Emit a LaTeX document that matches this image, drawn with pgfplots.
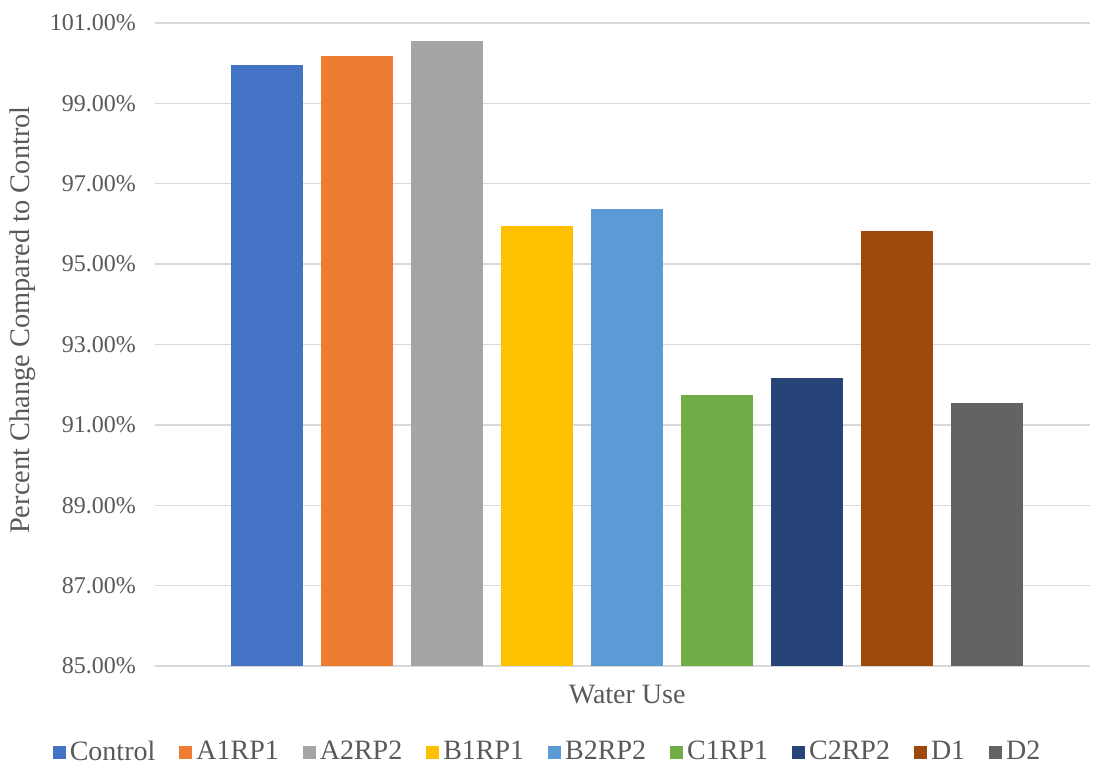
\documentclass[border=0pt]{standalone}
\usepackage{pgfplots}
\pgfplotsset{compat=1.18}
\usepackage{fontspec}
\setmainfont{Liberation Serif}

\definecolor{cControl}{HTML}{4472C4}
\definecolor{cAone}{HTML}{ED7D31}
\definecolor{cAtwo}{HTML}{A5A5A5}
\definecolor{cBone}{HTML}{FFC000}
\definecolor{cBtwo}{HTML}{5B9BD5}
\definecolor{cCone}{HTML}{70AD47}
\definecolor{cCtwo}{HTML}{264478}
\definecolor{cDone}{HTML}{9E480E}
\definecolor{cDtwo}{HTML}{636363}
\definecolor{txt}{HTML}{595959}
\definecolor{gridc}{HTML}{D9D9D9}

\begin{document}
\begin{tikzpicture}
\begin{axis}[
  scale only axis,
  width=467.5pt, height=321.5pt,
  ybar=9pt, bar width=36pt,
  xmin=-1.01, xmax=0.99,
  ymin=85, ymax=101,
  ytick={85,87,...,101},
  xtick=\empty,
  major tick length=0pt,
  /pgf/number format/assume math mode=true,
  yticklabel={\pgfmathprintnumber[fixed,fixed zerofill,precision=2]{\tick}\%},
  yticklabel style={text=txt, font=\fontsize{12}{14}\selectfont, xshift=-6pt},
  ymajorgrids,
  grid style={gridc, line width=0.75pt},
  axis line style={draw=none},
  xlabel={Water Use},
  xlabel style={at={(axis description cs:0.505,-0.045)}, anchor=center,
    text=txt, font=\fontsize{14}{16}\selectfont},
  ylabel={Percent Change Compared to Control},
  ylabel style={at={(axis description cs:-0.142,0.538)}, anchor=center,
    text=txt, font=\fontsize{14.2}{16}\selectfont},
  legend columns=9,
  legend style={draw=none, fill=none,
    at={(axis description cs:0.421,-0.134)}, anchor=center,
    font=\fontsize{14}{16}\selectfont, text=txt,
    /tikz/every even column/.append style={column sep=10pt}},
  legend image code/.code={\fill[#1] (0pt,-3.25pt) rectangle (6.5pt,3.25pt);},
]
\addplot[fill=cControl, draw=none] coordinates {(0,99.95)};
\addplot[fill=cAone, draw=none] coordinates {(0,100.18)};
\addplot[fill=cAtwo, draw=none] coordinates {(0,100.56)};
\addplot[fill=cBone, draw=none] coordinates {(0,95.96)};
\addplot[fill=cBtwo, draw=none] coordinates {(0,96.36)};
\addplot[fill=cCone, draw=none] coordinates {(0,91.75)};
\addplot[fill=cCtwo, draw=none] coordinates {(0,92.16)};
\addplot[fill=cDone, draw=none] coordinates {(0,95.83)};
\addplot[fill=cDtwo, draw=none] coordinates {(0,91.55)};
\legend{Control,A1RP1,A2RP2,B1RP1,B2RP2,C1RP1,C2RP2,D1,D2}
\end{axis}
\path (current axis.south west) ++(-77.5pt,-52pt) rectangle ++(549pt,385pt);
\end{tikzpicture}
\end{document}
